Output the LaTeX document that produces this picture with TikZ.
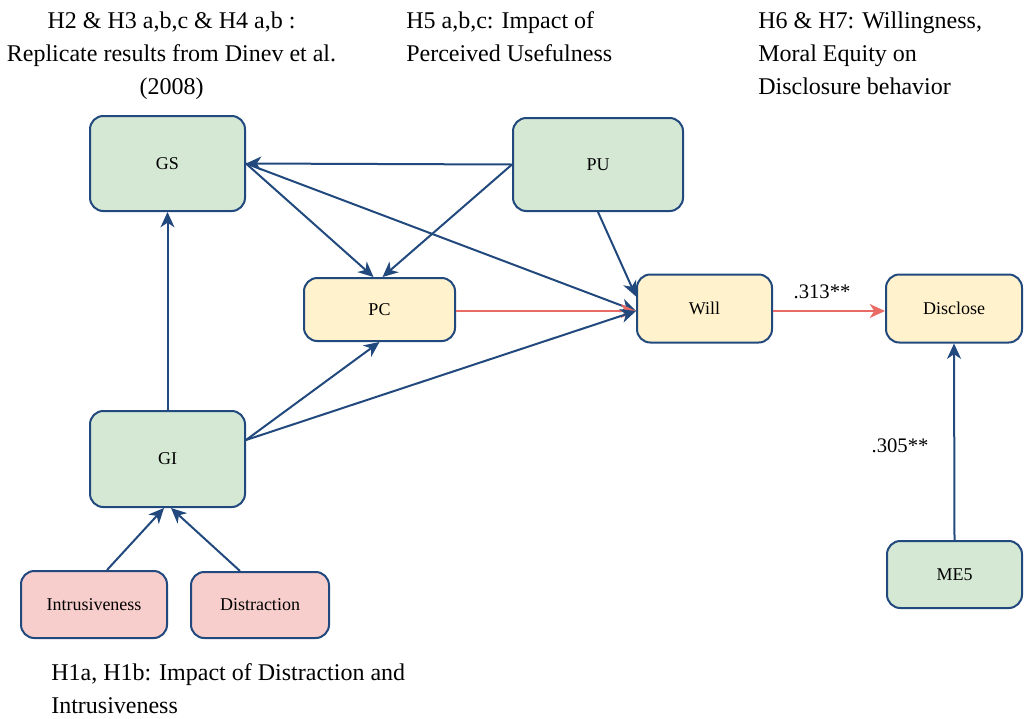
\documentclass[tikz,border=0pt]{standalone}
\usepackage{fontspec}
\setmainfont{Liberation Serif}
\usetikzlibrary{arrows.meta,calc}
\definecolor{linkblue}{HTML}{22497D}
\definecolor{linkred}{HTML}{EA6B66}
\definecolor{fillgreen}{HTML}{D5E8D4}
\definecolor{fillyellow}{HTML}{FFF2CC}
\definecolor{fillpink}{HTML}{F8CECC}
\tikzset{
  box/.style={draw=linkblue, line width=1.5pt, rounded corners=10pt,
    font=\fontsize{13.5}{16}\selectfont, inner sep=0pt},
  greenbox/.style={box, fill=fillgreen},
  yellowbox/.style={box, fill=fillyellow},
  pinkbox/.style={box, fill=fillpink},
  link/.style={draw=linkblue, line width=1.5pt,
    -{Stealth[length=11.5pt,width=10.5pt,inset=3.5pt]}},
  redlink/.style={draw=linkred, line width=1.5pt,
    -{Stealth[length=11.5pt,width=10.5pt,inset=3.5pt]}},
  heading/.style={font=\fontsize{18}{24.75}\selectfont, inner sep=0pt},
  weight/.style={font=\fontsize{15.5}{18}\selectfont, inner sep=0pt, anchor=base}
}
\begin{document}
\begin{tikzpicture}[x=0.75pt,y=-0.75pt]
\useasboundingbox (0,0) rectangle (1024,718);

% constructs
\node[greenbox, minimum width=116.25pt, minimum height=71.25pt] (GS) at (167.5,163.5) {GS};
\node[greenbox, minimum width=127.5pt, minimum height=69.75pt] (PU) at (598,164.5) {PU};
\node[yellowbox, minimum width=113.25pt, minimum height=47.25pt] (PC) at (379.5,309.5) {PC};
\node[yellowbox, minimum width=101.25pt, minimum height=51pt] (Will) at (704.5,308.5) {Will};
\node[yellowbox, minimum width=102pt, minimum height=51pt] (Disclose) at (954,308.5) {Disclose};
\node[greenbox, minimum width=116.25pt, minimum height=72pt] (GI) at (167.5,459) {GI};
\node[pinkbox, minimum width=109.5pt, minimum height=50.25pt] (Intr) at (94,604.5) {Intrusiveness};
\node[pinkbox, minimum width=103.5pt, minimum height=49.5pt] (Distr) at (260,605) {Distraction};
\node[greenbox, minimum width=101.25pt, minimum height=50.25pt] (ME5) at (954.5,574.5) {ME5};

% connection points
\coordinate (win) at ($(Will.west)+(0,2.5)$);
\coordinate (din) at ($(Disclose.west)+(0,2.5)$);
\coordinate (gsout) at (GS.east);
\coordinate (giout) at ($(GI.east)+(0,-19)$);

% paths
\draw[link] (PU.west) -- (gsout);
\draw[link] (PU.west) -- ($(PC.north)+(3,0)$);
\draw[link] (gsout) -- ($(PC.north)+(-6,0)$);
\draw[link] (gsout) -- (win);
\draw[link] (PU.south) -- ($(Will.west)+(0,-12)$);
\draw[redlink] (PC.east |- win) -- (win);
\draw[link] (giout) -- (PC.south);
\draw[link] (giout) -- (win);
\draw[link] (GI.north) -- (GS.south);
\draw[link] ($(Intr.north)+(13,0)$) -- ($(GI.south)+(-3.5,0)$);
\draw[link] ($(Distr.north)+(-20,0)$) -- ($(GI.south)+(3.5,0)$);
\draw[redlink] (Will.east |- din) -- (din);
\draw[link] (ME5.north) -- (Disclose.south);

% path weights
\node[weight] (w1) at (822,298) {.313**};
\node[weight] (w2) at (900,452) {.305**};

% hypothesis notes (anchored at the baseline of their last line)
\node[heading, anchor=base, align=center] (h1) at (171.5,94)
  {H2 \& H3 a,b,c \& H4 a,b :\\Replicate results from Dinev et al.\\(2008)};
\node[heading, anchor=base west, align=left] (h2) at (406,61)
  {H5 a,b,c: Impact of\\Perceived Usefulness};
\node[heading, anchor=base west, align=left] (h3) at (758,94)
  {H6 \& H7: Willingness,\\Moral Equity on\\Disclosure behavior};
\node[heading, anchor=base west, align=left] (h4) at (51,713)
  {H1a, H1b: Impact of Distraction and\\Intrusiveness};
\end{tikzpicture}
\end{document}
